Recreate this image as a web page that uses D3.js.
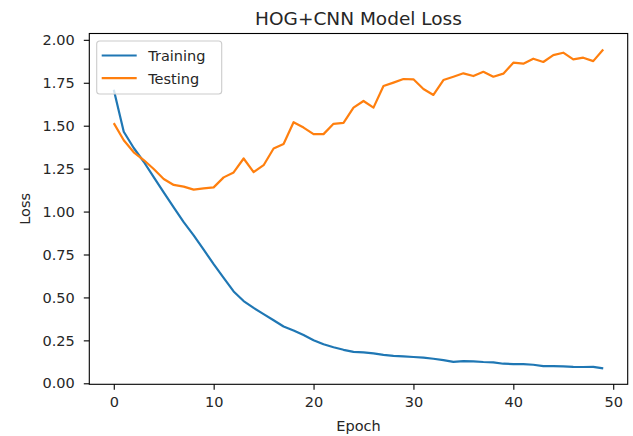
<!DOCTYPE html>
<html><head><meta charset="utf-8">
<script src="https://cdn.jsdelivr.net/npm/d3@7/dist/d3.min.js"></script>
<style>
body{margin:0;background:#fff}
svg{display:block;font-family:"DejaVu Sans",sans-serif}
</style>
</head><body>
<svg id="chart" width="633" height="436"></svg>
<script>
const title = "HOG+CNN Model Loss";
const xLabel = "Epoch";
const yLabel = "Loss";
const seriesNames = ["Training", "Testing"];
const trainingLoss = [1.71,1.465,1.37,1.29,1.20,1.112,1.025,0.938,0.861,0.778,
  0.694,0.614,0.535,0.479,0.439,0.403,0.367,0.331,0.307,0.281,
  0.251,0.227,0.210,0.195,0.183,0.180,0.174,0.166,0.160,0.157,
  0.153,0.149,0.143,0.135,0.125,0.129,0.128,0.124,0.122,0.114,
  0.112,0.112,0.108,0.100,0.100,0.099,0.096,0.095,0.096,0.087];
const testingLoss = [1.515,1.415,1.345,1.30,1.248,1.19,1.155,1.145,1.128,1.135,
  1.141,1.199,1.228,1.309,1.230,1.270,1.367,1.393,1.520,1.489,
  1.451,1.451,1.511,1.516,1.605,1.644,1.605,1.731,1.751,1.772,
  1.770,1.714,1.679,1.766,1.785,1.805,1.789,1.814,1.785,1.803,
  1.867,1.861,1.890,1.871,1.911,1.925,1.886,1.896,1.876,1.944];
const xTicks = [0,10,20,30,40,50];
const yTicks = [0,0.25,0.5,0.75,1.0,1.25,1.5,1.75,2.0];
const colors = ["#1f77b4", "#ff7f0e"];

const svg = d3.select("#chart");
const L = 89.3, R = 627.7, T = 33.5, B = 384.3;
const n = trainingLoss.length;
const xPad = 0.05 * (n - 1);
const x = d3.scaleLinear().domain([0 - xPad, n - 1 + xPad]).range([L, R]);
const all = trainingLoss.concat(testingLoss);
const ymin = d3.min(all), ymax = d3.max(all), yPad = 0.05 * (ymax - ymin);
const y = d3.scaleLinear().domain([ymin - yPad, ymax + yPad]).range([B, T]);

const tickFont = 14.5;
const xAxis = d3.axisBottom(x).tickValues(xTicks).tickFormat(d3.format("d")).tickSizeInner(5.5).tickSizeOuter(0).tickPadding(7);
const yAxis = d3.axisLeft(y).tickValues(yTicks).tickFormat(d3.format(".2f")).tickSizeInner(5.5).tickSizeOuter(0).tickPadding(9);

const gx = svg.append("g").attr("transform", `translate(0,${B})`).call(xAxis);
const gy = svg.append("g").attr("transform", `translate(${L},0)`).call(yAxis);
[gx, gy].forEach(g => {
  g.select(".domain").remove();
  g.selectAll(".tick line").attr("stroke", "#000").attr("stroke-width", 1.1);
  g.selectAll(".tick text").attr("fill", "#262626").style("font-size", tickFont + "px").style("font-family", "DejaVu Sans");
});

const line = d3.line().x((d, i) => x(i)).y(d => y(d));
const plot = svg.append("g");
[trainingLoss, testingLoss].forEach((s, k) => {
  plot.append("path").datum(s).attr("d", line).attr("fill", "none")
    .attr("stroke", colors[k]).attr("stroke-width", 2.2)
    .attr("stroke-linejoin", "round").attr("stroke-linecap", "butt");
});

svg.append("rect").attr("x", L).attr("y", T).attr("width", R - L).attr("height", B - T)
  .attr("fill", "none").attr("stroke", "#000").attr("stroke-width", 1.1);

svg.append("text").attr("x", (L + R) / 2).attr("y", 25).attr("text-anchor", "middle")
  .attr("fill", "#262626").style("font-size", "18.5px").text(title);
svg.append("text").attr("x", (L + R) / 2).attr("y", 431).attr("text-anchor", "middle")
  .attr("fill", "#262626").style("font-size", "14.5px").text(xLabel);
svg.append("text").attr("transform", `translate(30,${(T + B) / 2}) rotate(-90)`).attr("text-anchor", "middle")
  .attr("fill", "#262626").style("font-size", "14.5px").text(yLabel);

// legend
const lg = svg.append("g").attr("transform", `translate(${L + 7.4},${T + 7.5})`);
lg.append("rect").attr("width", 125).attr("height", 53).attr("rx", 3)
  .attr("fill", "#fff").attr("fill-opacity", 0.8).attr("stroke", "#ccc").attr("stroke-width", 1.1);
seriesNames.forEach((name, k) => {
  const yy = 14.5 + k * 22.7;
  lg.append("line").attr("x1", 5).attr("x2", 40).attr("y1", yy).attr("y2", yy)
    .attr("stroke", colors[k]).attr("stroke-width", 2.2);
  lg.append("text").attr("x", 51.5).attr("y", yy + 5.3).attr("fill", "#262626")
    .style("font-size", "14.5px").text(name);
});
</script>
</body></html>
